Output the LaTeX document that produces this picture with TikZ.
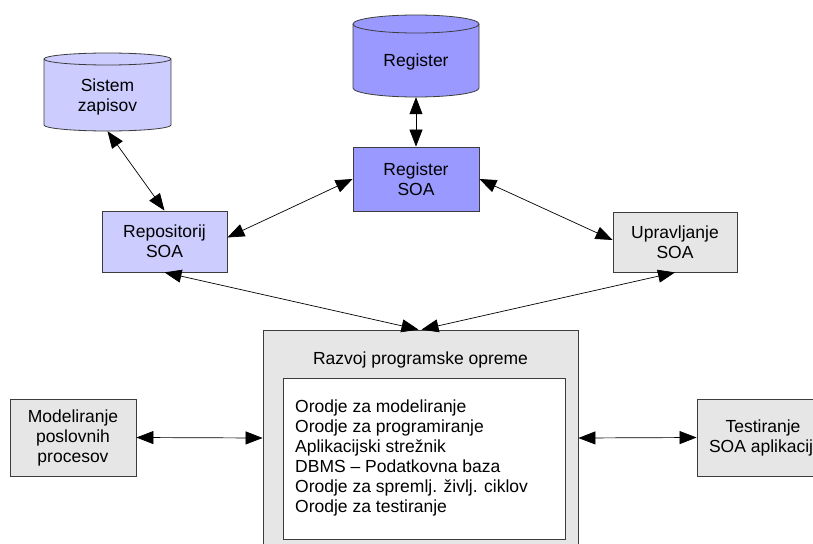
\documentclass[tikz,border=0pt]{standalone}
\usepackage{fontspec}
\setmainfont{Liberation Sans}
\usetikzlibrary{arrows.meta}
\definecolor{lilac}{RGB}{204,204,255}
\definecolor{regblue}{RGB}{153,153,255}
\definecolor{panel}{RGB}{230,230,230}
\definecolor{edge}{RGB}{60,60,60}
\begin{document}
\begin{tikzpicture}[x=1pt,y=-1pt,
  lbl/.style={font=\fontsize{17.5}{20}\selectfont, align=center, text=black},
  box/.style={draw=edge, line width=0.8pt, lbl, inner sep=0pt},
  area/.style={draw=none, inner sep=0pt},
  link/.style={line width=0.7pt, draw=black,
    {Triangle[length=17pt,width=13pt]}-{Triangle[length=17pt,width=13pt]}},
  rim/.style={draw=edge, line width=0.8pt}
]
\useasboundingbox (0,0) rectangle (813,543);
\clip (0,0) rectangle (813,543);

% database drum: Sistem zapisov
\filldraw[fill=lilac, rim] (44,59) -- (44,125)
  arc[start angle=180,end angle=0,x radius=63.5,y radius=6] -- (171,59)
  arc[start angle=0,end angle=-180,x radius=63.5,y radius=6] -- cycle;
\draw[rim] (44,59) arc[start angle=180,end angle=0,x radius=63.5,y radius=6];
\node[area, minimum width=127pt, minimum height=78pt] (sis) at (107.5,92) {};
\node[lbl] at (107.5,97) {Sistem\\zapisov};

% database drum: Register
\filldraw[fill=regblue, rim] (353,24) -- (353,88)
  arc[start angle=180,end angle=0,x radius=63,y radius=9] -- (479,24)
  arc[start angle=0,end angle=-180,x radius=63,y radius=9] -- cycle;
\draw[rim] (353,24) arc[start angle=180,end angle=0,x radius=63,y radius=9];
\node[area, minimum width=126pt, minimum height=82pt] (reg) at (416,56) {};
\node[lbl] at (416,62) {Register};

% boxes
\node[box, fill=regblue, minimum width=126pt, minimum height=64pt] (regsoa) at (416,179) {Register\\SOA};
\node[box, fill=lilac, minimum width=125pt, minimum height=61pt] (repo) at (164.5,241.5) {Repositorij\\SOA};
\node[box, fill=panel, minimum width=124pt, minimum height=60pt] (upr) at (675,242) {Upravljanje\\SOA};
\node[box, fill=panel, minimum width=126pt, minimum height=77pt] (model) at (73,437.5) {Modeliranje\\poslovnih\\procesov};
\node[box, fill=panel, minimum width=132pt, minimum height=77pt] (test) at (763,437.5) {Testiranje\\SOA aplikaciji};

% development environment panel
\node[box, fill=panel, minimum width=315pt, minimum height=216pt] (razvoj) at (420.5,438) {};
\node[lbl] (rtitle) at (420.5,360) {Razvoj programske opreme};
\node[box, fill=white, minimum width=282pt, minimum height=161pt] (tools) at (424,458.5) {};
\node[lbl, align=left, anchor=west, inner sep=0pt] (list) at (295,458) {%
Orodje za modeliranje\\
Orodje za programiranje\\
Aplikacijski strežnik\\
DBMS – Podatkovna baza\\
Orodje za spremlj. življ. ciklov\\
Orodje za testiranje};

% connectors
\draw[link] (sis.south) -- (repo.north);
\draw[link] (reg.south) -- (regsoa.north);
\draw[link] (regsoa.west) -- ([yshift=4pt]repo.east);
\draw[link] (regsoa.east) -- ([yshift=2pt]upr.west);
\draw[link] (repo.south) -- ([xshift=-2pt]razvoj.north);
\draw[link] (upr.south) -- ([xshift=1pt]razvoj.north);
\draw[link] (model.east) -- (razvoj.west);
\draw[link] (razvoj.east) -- (test.west);
\end{tikzpicture}
\end{document}
